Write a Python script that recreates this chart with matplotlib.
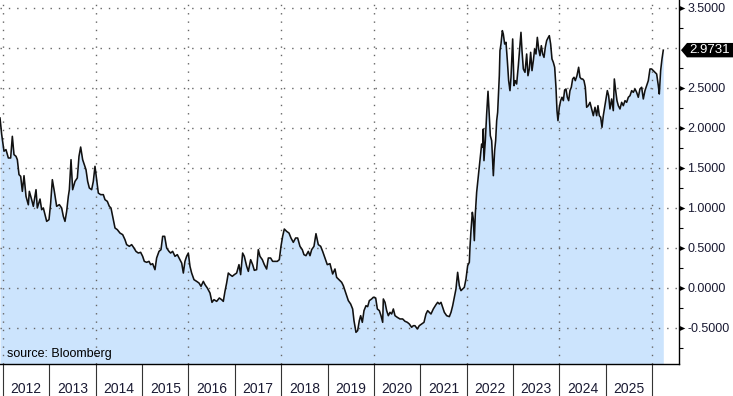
import numpy as np
import matplotlib.pyplot as plt
from matplotlib.path import Path
from matplotlib.patches import Polygon
from matplotlib.transforms import blended_transform_factory

# yield series, time in decimal years, value in %
t = [2011.935, 2011.971, 2012.021, 2012.064, 2012.115, 2012.165, 2012.201, 2012.237, 2012.280, 2012.309,
     2012.345, 2012.381, 2012.417, 2012.453, 2012.496, 2012.546, 2012.568, 2012.618, 2012.654, 2012.712,
     2012.740, 2012.798, 2012.834, 2012.870, 2012.906, 2012.942, 2012.992, 2013.028, 2013.064, 2013.107,
     2013.157, 2013.215, 2013.265, 2013.301, 2013.337, 2013.373, 2013.409, 2013.431, 2013.467, 2013.502,
     2013.553, 2013.603, 2013.639, 2013.675, 2013.718, 2013.754, 2013.790, 2013.826, 2013.862, 2013.912,
     2013.948, 2013.984, 2014.020, 2014.056, 2014.106, 2014.164, 2014.200, 2014.250, 2014.293, 2014.329,
     2014.365, 2014.416, 2014.466, 2014.523, 2014.581, 2014.631, 2014.667, 2014.725, 2014.775, 2014.825,
     2014.868, 2014.919, 2014.969, 2015.012, 2015.048, 2015.099, 2015.149, 2015.185, 2015.228, 2015.278,
     2015.314, 2015.365, 2015.408, 2015.444, 2015.487, 2015.530, 2015.580, 2015.616, 2015.659, 2015.710,
     2015.760, 2015.818, 2015.854, 2015.890, 2015.925, 2015.961, 2015.997, 2016.033, 2016.069, 2016.120,
     2016.177, 2016.228, 2016.271, 2016.321, 2016.357, 2016.407, 2016.465, 2016.508, 2016.551, 2016.609,
     2016.666, 2016.716, 2016.752, 2016.788, 2016.824, 2016.860, 2016.896, 2016.946, 2016.990, 2017.040,
     2017.090, 2017.126, 2017.169, 2017.205, 2017.256, 2017.292, 2017.342, 2017.385, 2017.421, 2017.471,
     2017.507, 2017.543, 2017.594, 2017.637, 2017.687, 2017.723, 2017.773, 2017.816, 2017.867, 2017.917,
     2017.960, 2017.996, 2018.032, 2018.068, 2018.118, 2018.169, 2018.212, 2018.262, 2018.312, 2018.356,
     2018.406, 2018.456, 2018.492, 2018.535, 2018.586, 2018.622, 2018.658, 2018.708, 2018.751, 2018.801,
     2018.852, 2018.895, 2018.945, 2018.995, 2019.053, 2019.111, 2019.161, 2019.197, 2019.255, 2019.305,
     2019.341, 2019.377, 2019.413, 2019.449, 2019.499, 2019.542, 2019.571, 2019.614, 2019.650, 2019.686,
     2019.715, 2019.751, 2019.787, 2019.830, 2019.866, 2019.902, 2019.952, 2019.988, 2020.039, 2020.075,
     2020.118, 2020.154, 2020.190, 2020.204, 2020.240, 2020.276, 2020.312, 2020.348, 2020.384, 2020.420,
     2020.456, 2020.506, 2020.563, 2020.621, 2020.671, 2020.722, 2020.765, 2020.815, 2020.851, 2020.887,
     2020.937, 2020.980, 2021.031, 2021.081, 2021.124, 2021.160, 2021.196, 2021.232, 2021.282, 2021.340,
     2021.376, 2021.412, 2021.448, 2021.484, 2021.520, 2021.570, 2021.628, 2021.664, 2021.700, 2021.735,
     2021.771, 2021.807, 2021.843, 2021.879, 2021.915, 2021.951, 2021.987, 2022.023, 2022.059, 2022.073,
     2022.095, 2022.124, 2022.145, 2022.167, 2022.188, 2022.217, 2022.239, 2022.267, 2022.289, 2022.325,
     2022.347, 2022.361, 2022.375, 2022.404, 2022.433, 2022.462, 2022.490, 2022.512, 2022.541, 2022.577,
     2022.605, 2022.627, 2022.649, 2022.670, 2022.706, 2022.720, 2022.742, 2022.771, 2022.792, 2022.821,
     2022.850, 2022.879, 2022.907, 2022.936, 2022.958, 2022.994, 2023.022, 2023.051, 2023.080, 2023.116,
     2023.152, 2023.173, 2023.195, 2023.224, 2023.260, 2023.296, 2023.324, 2023.353, 2023.382, 2023.411,
     2023.440, 2023.468, 2023.497, 2023.526, 2023.555, 2023.583, 2023.612, 2023.641, 2023.670, 2023.698,
     2023.727, 2023.763, 2023.785, 2023.813, 2023.842, 2023.871, 2023.900, 2023.928, 2023.950, 2023.971,
     2024.000, 2024.029, 2024.058, 2024.087, 2024.115, 2024.144, 2024.173, 2024.202, 2024.230, 2024.259,
     2024.288, 2024.317, 2024.345, 2024.381, 2024.417, 2024.446, 2024.475, 2024.504, 2024.532, 2024.561,
     2024.590, 2024.626, 2024.662, 2024.698, 2024.734, 2024.770, 2024.806, 2024.834, 2024.863, 2024.892,
     2024.921, 2024.949, 2024.978, 2025.007, 2025.036, 2025.064, 2025.093, 2025.129, 2025.165, 2025.187,
     2025.216, 2025.244, 2025.273, 2025.309, 2025.345, 2025.381, 2025.417, 2025.453, 2025.489, 2025.525,
     2025.561, 2025.597, 2025.633, 2025.668, 2025.704, 2025.740, 2025.776, 2025.812, 2025.848, 2025.884,
     2025.920, 2025.956, 2025.992, 2026.028, 2026.064, 2026.100, 2026.136, 2026.157, 2026.186, 2026.215,
     2026.243]

v = [2.125, 1.92, 1.71, 1.73, 1.625, 1.625, 1.896, 1.667, 1.646, 1.604,
     1.417, 1.396, 1.208, 1.404, 1.146, 1.04, 1.208, 1.104, 1.021, 1.229,
     1.0, 1.112, 0.979, 1.0, 0.917, 0.833, 0.854, 1.062, 1.354, 1.208,
     1.021, 1.042, 1.0, 0.896, 0.833, 0.958, 1.146, 1.229, 1.604, 1.229,
     1.333, 1.375, 1.646, 1.762, 1.604, 1.542, 1.479, 1.333, 1.25, 1.229,
     1.333, 1.521, 1.354, 1.187, 1.167, 1.167, 1.104, 1.083, 1.021, 1.0,
     0.896, 0.75, 0.729, 0.687, 0.667, 0.604, 0.542, 0.521, 0.542, 0.5,
     0.458, 0.437, 0.446, 0.396, 0.333, 0.321, 0.333, 0.292, 0.304, 0.229,
     0.375, 0.458, 0.479, 0.646, 0.646, 0.5, 0.458, 0.437, 0.458, 0.396,
     0.417, 0.354, 0.312, 0.187, 0.333, 0.396, 0.437, 0.271, 0.187, 0.104,
     0.083, 0.062, 0.021, 0.083, 0.042, 0.0, -0.063, -0.179, -0.146, -0.167,
     -0.125, -0.146, -0.167, -0.042, 0.062, 0.187, 0.167, 0.146, 0.167, 0.187,
     0.292, 0.167, 0.437, 0.396, 0.271, 0.208, 0.354, 0.292, 0.221, 0.229,
     0.479, 0.396, 0.354, 0.292, 0.237, 0.375, 0.375, 0.333, 0.333, 0.333,
     0.354, 0.521, 0.646, 0.737, 0.708, 0.687, 0.625, 0.571, 0.625, 0.625,
     0.521, 0.479, 0.417, 0.404, 0.458, 0.404, 0.479, 0.521, 0.679, 0.542,
     0.521, 0.458, 0.375, 0.292, 0.304, 0.175, 0.238, 0.133, 0.1, 0.071,
     0.029, -0.033, -0.096, -0.158, -0.2, -0.262, -0.408, -0.554, -0.533, -0.408,
     -0.346, -0.429, -0.283, -0.221, -0.233, -0.158, -0.137, -0.116, -0.125, -0.262,
     -0.283, -0.346, -0.429, -0.137, -0.179, -0.283, -0.346, -0.304, -0.325, -0.262,
     -0.346, -0.367, -0.387, -0.387, -0.416, -0.429, -0.45, -0.491, -0.471, -0.471,
     -0.512, -0.471, -0.45, -0.429, -0.325, -0.283, -0.304, -0.325, -0.262, -0.208,
     -0.179, -0.2, -0.179, -0.241, -0.304, -0.346, -0.358, -0.304, -0.221, -0.116,
     -0.012, 0.196, 0.029, -0.033, -0.012, 0.008, 0.113, 0.279, 0.321, 0.508,
     0.717, 0.946, 0.863, 0.592, 0.925, 1.196, 1.321, 1.467, 1.592, 1.8,
     1.758, 1.988, 1.592, 1.842, 2.175, 2.459, 2.133, 1.904, 1.842, 1.404,
     1.717, 1.842, 2.092, 2.196, 2.654, 2.967, 3.05, 3.217, 3.175, 3.05,
     3.071, 2.842, 2.592, 2.467, 2.634, 3.113, 2.529, 2.592, 2.55, 2.779,
     3.05, 3.196, 2.967, 2.738, 2.696, 2.925, 2.654, 2.738, 2.946, 2.717,
     2.842, 2.988, 2.925, 3.133, 2.988, 2.904, 3.029, 2.925, 2.883, 3.009,
     3.092, 3.133, 3.154, 3.05, 2.863, 2.821, 2.759, 2.509, 2.217, 2.092,
     2.259, 2.342, 2.384, 2.342, 2.475, 2.488, 2.384, 2.342, 2.467, 2.509,
     2.613, 2.634, 2.592, 2.654, 2.759, 2.634, 2.613, 2.613, 2.592, 2.509,
     2.259, 2.279, 2.321, 2.238, 2.154, 2.259, 2.154, 2.279, 2.154, 2.134,
     2.009, 2.154, 2.259, 2.363, 2.467, 2.404, 2.238, 2.363, 2.217, 2.613,
     2.467, 2.342, 2.279, 2.238, 2.321, 2.279, 2.342, 2.321, 2.384, 2.404,
     2.467, 2.446, 2.488, 2.446, 2.384, 2.488, 2.509, 2.363, 2.467, 2.529,
     2.592, 2.738, 2.738, 2.717, 2.696, 2.675, 2.529, 2.425, 2.717, 2.863,
     2.9731]

last_value = 2.9731
year_labels = list(range(2012, 2026))
y_major = [-0.5, 0.0, 0.5, 1.0, 1.5, 2.0, 2.5, 3.0, 3.5]
y_minor = [-0.75, -0.25, 0.25, 0.75, 1.25, 1.75, 2.25, 2.75, 3.25]

fill_col = '#cce4fd'
grid_col = '#666666'
lab_col = '#1a1a33'
narrow = ['Liberation Sans Narrow', 'Liberation Sans', 'DejaVu Sans']
plain = ['Liberation Sans', 'DejaVu Sans']

fig = plt.figure(figsize=(7.33, 3.96), dpi=100)
ax = fig.add_axes([0, 32 / 396, 679 / 733, 364 / 396])
ax.set_xlim(2011.935, 2026.582)
ax.set_ylim(-0.95, 3.6)

# area + line
ax.fill_between(t, v, -0.95, color=fill_col, lw=0, zorder=1)
ax.plot(t, v, color='#111111', lw=1.15, zorder=3)

# dotted grid, every 0.5 and every 2 years
for yy in y_major:
    ax.axhline(yy, color=grid_col, lw=1.0, ls=(0, (1, 5)), zorder=2)
for yr in range(2012, 2027, 2):
    ax.axvline(yr, color=grid_col, lw=1.0, ls=(0, (1, 5)), zorder=2)

for s in ['top', 'left']:
    ax.spines[s].set_visible(False)
for s in ['right', 'bottom']:
    ax.spines[s].set_linewidth(1.0)
    ax.spines[s].set_color('black')

# x axis: long separators at year starts, labels mid-year
ax.set_xticks(range(2012, 2027))
ax.set_xticklabels([])
ax.set_xticks([y + 0.5 for y in year_labels], minor=True)
ax.set_xticklabels([str(y) for y in year_labels], minor=True, family=narrow, fontsize=10, color=lab_col)
ax.tick_params(axis='x', which='major', length=24, width=0.8, color='#333333')
ax.tick_params(axis='x', which='minor', length=0, pad=13)

# right y axis; the 3.0 level is covered by the last value tag
ax.yaxis.tick_right()
ax.set_yticks(y_major)
ax.set_yticklabels(['' if y == 3.0 else f'{y:.4f}' for y in y_major], family=plain, fontsize=9, color=lab_col)
ax.set_yticks(y_minor, minor=True)
ax.tick_params(axis='y', which='major', length=0, pad=6)
ax.tick_params(axis='y', which='minor', length=3, width=0.8, color='black')

# triangle markers for the major ticks
tri = Path([(0, -0.5), (0, 0.5), (1.1, 0), (0, -0.5)],
           [Path.MOVETO, Path.LINETO, Path.LINETO, Path.CLOSEPOLY])
tr = blended_transform_factory(ax.transAxes, ax.transData)
tri_levels = [y for y in y_major if y != 3.0]
ax.scatter([1.0] * len(tri_levels), tri_levels, marker=tri, s=70, color='black',
           transform=tr, clip_on=False, zorder=5, linewidths=0)

# last value tag: black arrow box running to the right edge
tr_fig = blended_transform_factory(fig.transFigure, ax.transData)
h = 0.09
tag = Polygon([(681 / 733, last_value), (687 / 733, last_value + h), (1.0, last_value + h),
               (1.0, last_value - h), (687 / 733, last_value - h)],
              closed=True, transform=tr_fig, fc='black', ec='none', clip_on=False, zorder=6)
ax.add_patch(tag)
ax.text(689 / 733, last_value, f'{last_value:.4f}', transform=tr_fig, ha='left', va='center',
        color='white', fontsize=9.5, family=plain, zorder=7)

fig.text(7 / 733, 1 - 354 / 396, 'source: Bloomberg', ha='left', va='center',
         fontsize=9, family=plain, color='black')

fig.savefig('out.png', dpi=100)
